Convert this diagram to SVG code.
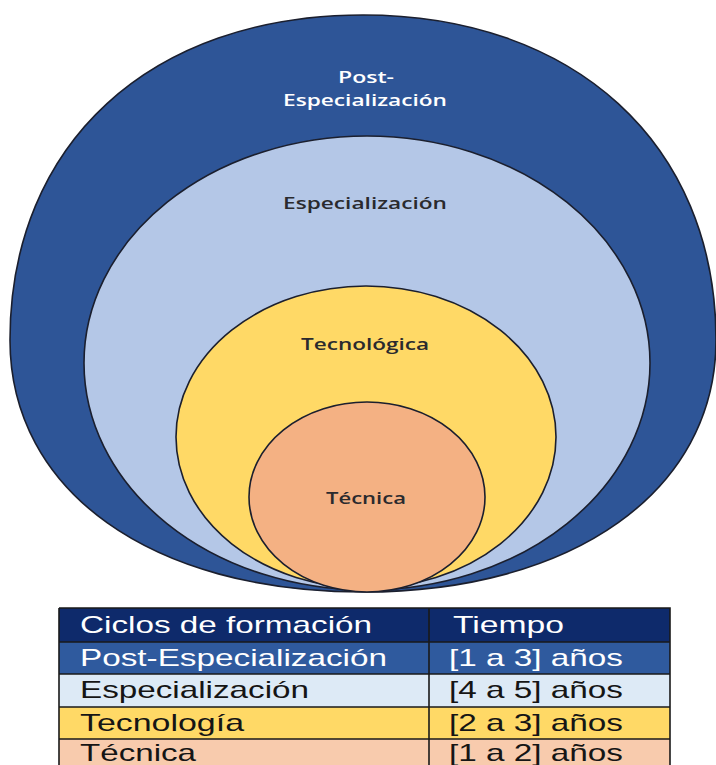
<svg xmlns="http://www.w3.org/2000/svg" width="716" height="765" viewBox="0 0 716 765">
<style>
.ring{stroke:#1b1f2e;stroke-width:1.6}
.lbl{font-family:"Open Sans","Noto Sans","Liberation Sans",sans-serif;font-weight:600;font-size:17px;text-anchor:middle}
.dark{fill:#2a2a2e}
.white{fill:#ffffff}
.tt{font-family:"Liberation Sans",Arial,sans-serif;font-size:24px}
.grid{stroke:#1a1a1a;stroke-width:1.6;fill:none}
</style>
<rect width="716" height="765" fill="#ffffff"/>
<g id="post-especializacion">
<path class="ring" fill="#2E5597" d="M363,15 C573,15 716,143 716,340 C716,491 573,592 363,592 C151,592 10,491 10,340 C10,143 151,15 363,15 Z"/>
<text class="lbl white" x="366" y="83" textLength="56" lengthAdjust="spacingAndGlyphs">Post-</text>
<text class="lbl white" x="365" y="106" textLength="164" lengthAdjust="spacingAndGlyphs">Especialización</text>
</g>
<g id="especializacion">
<ellipse class="ring" fill="#B4C7E7" cx="367" cy="363" rx="283" ry="227"/>
<text class="lbl dark" x="365" y="209" textLength="164" lengthAdjust="spacingAndGlyphs">Especialización</text>
</g>
<g id="tecnologica">
<ellipse class="ring" fill="#FFD966" cx="366" cy="437" rx="190" ry="151"/>
<text class="lbl dark" x="365" y="350" textLength="128" lengthAdjust="spacingAndGlyphs">Tecnológica</text>
</g>
<g id="tecnica">
<ellipse class="ring" fill="#F4B183" cx="367" cy="497" rx="118" ry="95"/>
<text class="lbl dark" x="366" y="504" textLength="80" lengthAdjust="spacingAndGlyphs">Técnica</text>
</g>
<g id="connectors"></g>
<g id="tabla">
<rect x="59" y="608" width="611" height="34" fill="#0E2A6B"/>
<rect x="59" y="642" width="611" height="32" fill="#2F5A9E"/>
<rect x="59" y="674" width="611" height="33" fill="#DDEAF6"/>
<rect x="59" y="707" width="611" height="32" fill="#FFD966"/>
<rect x="59" y="739" width="611" height="32" fill="#F8CBAD"/>
<path class="grid" d="M59,608 H670 V771 M59,608 V771 M59,642 H670 M59,674 H670 M59,707 H670 M59,739 H670 M429,608 V771"/>
<text class="tt white" x="80" y="633" textLength="292" lengthAdjust="spacingAndGlyphs">Ciclos de formación</text>
<text class="tt white" x="453" y="633" textLength="111" lengthAdjust="spacingAndGlyphs">Tiempo</text>
<text class="tt white" x="80" y="666" textLength="307" lengthAdjust="spacingAndGlyphs">Post-Especialización</text>
<text class="tt white" x="449" y="666" textLength="174" lengthAdjust="spacingAndGlyphs">[1 a 3] años</text>
<text class="tt" fill="#151515" x="80" y="698" textLength="229" lengthAdjust="spacingAndGlyphs">Especialización</text>
<text class="tt" fill="#151515" x="449" y="698" textLength="174" lengthAdjust="spacingAndGlyphs">[4 a 5] años</text>
<text class="tt" fill="#151515" x="80" y="731" textLength="164" lengthAdjust="spacingAndGlyphs">Tecnología</text>
<text class="tt" fill="#151515" x="449" y="731" textLength="174" lengthAdjust="spacingAndGlyphs">[2 a 3] años</text>
<text class="tt" fill="#151515" x="80" y="761" textLength="116" lengthAdjust="spacingAndGlyphs">Técnica</text>
<text class="tt" fill="#151515" x="449" y="761" textLength="174" lengthAdjust="spacingAndGlyphs">[1 a 2] años</text>
</g>
</svg>
